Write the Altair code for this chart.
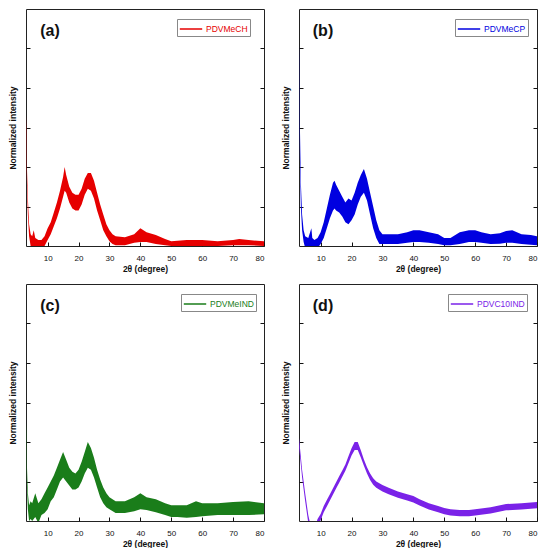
import altair as alt
import pandas as pd

FONT = "Liberation Sans"

# ---------------- data (y in tick-division units) ----------------
a_name = "PDVMeCH"
a_x = [3, 3.3, 3.6, 4, 4.5, 5, 5.5, 6, 7, 8,
       9, 10, 11, 12, 13, 14, 15, 15.5, 16, 17, 18, 19, 20, 21, 22, 23, 24, 25, 26, 27, 28, 29, 30, 31,
       32, 35, 38, 40, 42, 45, 48, 50, 55, 60, 65, 70, 72, 75, 80]
a_lo = [2.9, 1.6, 0.8, 0.25, 0.0, -0.1, 0.0, -0.1, -0.1, -0.05,
        0.0, 0.15, 0.3, 0.5, 0.7, 0.95, 1.25, 1.4, 1.35, 1.1, 0.95, 0.9, 0.9, 1.05, 1.3, 1.45, 1.4, 1.2, 0.9, 0.65, 0.4, 0.25, 0.12, 0.05,
        0.02, 0.02, 0.08, 0.1, 0.1, 0.05, 0.02, 0.0, 0.0, 0.0, 0.0, 0.02, 0.02, 0.02, 0.0]
a_hi = [3.3, 2.0, 1.2, 0.55, 0.3, 0.25, 0.4, 0.2, 0.15, 0.15,
        0.25, 0.45, 0.6, 0.85, 1.1, 1.4, 1.75, 2.0, 1.8, 1.5, 1.35, 1.3, 1.3, 1.45, 1.7, 1.85, 1.85, 1.65, 1.35, 1.05, 0.8, 0.55, 0.4, 0.3,
        0.25, 0.22, 0.3, 0.45, 0.35, 0.28, 0.18, 0.12, 0.15, 0.15, 0.12, 0.15, 0.18, 0.15, 0.12]

b_name = "PDVMeCP"
b_x = [3, 3.3, 3.6, 4, 4.5, 5, 6, 7, 7.3, 8,
       9, 10, 11, 12, 13, 14, 14.5, 15, 16, 17, 18, 19, 20, 21, 22, 23, 24, 25, 26, 27, 28, 29, 30,
       32, 35, 38, 40, 42, 45, 48, 50, 52, 55, 58, 60, 62, 65, 68, 70, 72, 75, 78, 80]
b_lo = [4.7, 2.2, 1.0, 0.4, 0.1, -0.05, -0.1, -0.1, 0.0, -0.1,
        -0.05, 0.05, 0.2, 0.45, 0.7, 0.9, 0.95, 0.9, 0.85, 0.75, 0.6, 0.55, 0.65, 0.8, 1.05, 1.25, 1.35, 1.15, 0.8, 0.45, 0.2, 0.05, 0.05,
        0.05, 0.05, 0.08, 0.1, 0.1, 0.08, 0.05, 0.02, 0.02, 0.05, 0.1, 0.1, 0.08, 0.05, 0.06, 0.08, 0.08, 0.05, 0.03, 0.02]
b_hi = [5.1, 3.0, 1.6, 0.8, 0.4, 0.25, 0.2, 0.45, 0.2, 0.15,
        0.2, 0.35, 0.6, 0.95, 1.3, 1.6, 1.65, 1.55, 1.4, 1.25, 1.1, 1.2, 1.15, 1.35, 1.6, 1.8, 1.95, 1.7, 1.35, 1.0, 0.65, 0.4, 0.3,
        0.3, 0.3, 0.35, 0.4, 0.4, 0.35, 0.3, 0.2, 0.2, 0.35, 0.4, 0.4, 0.35, 0.3, 0.32, 0.38, 0.4, 0.3, 0.28, 0.25]

c_name = "PDVMeIND"
c_x = [3, 3.3, 3.6, 4, 4.5, 5, 6, 7, 8, 9,
       10, 11, 12, 13, 14, 15, 16, 17, 18, 19, 20, 21, 22, 23, 24, 25, 26, 27, 28, 29, 30,
       32, 35, 38, 40, 42, 45, 48, 50, 52, 55, 58, 60, 65, 70, 75, 80]
c_lo = [2.2, 0.9, 0.3, 0.0, 0.05, 0.0, 0.1, -0.05, 0.15, 0.2,
        0.3, 0.5, 0.6, 0.8, 1.0, 1.1, 1.0, 0.9, 0.8, 0.8, 0.85, 1.0, 1.2, 1.35, 1.3, 1.1, 0.85, 0.6, 0.45, 0.35, 0.3,
        0.2, 0.2, 0.25, 0.3, 0.28, 0.22, 0.15, 0.1, 0.1, 0.08, 0.1, 0.12, 0.15, 0.15, 0.15, 0.17]
c_hi = [2.5, 1.4, 0.7, 0.4, 0.5, 0.45, 0.7, 0.45, 0.55, 0.7,
        0.85, 1.0, 1.15, 1.35, 1.55, 1.75, 1.55, 1.35, 1.25, 1.2, 1.3, 1.5, 1.75, 2.0, 1.85, 1.6, 1.3, 1.05, 0.85, 0.7, 0.6,
        0.5, 0.5, 0.6, 0.7, 0.6, 0.55, 0.45, 0.4, 0.4, 0.4, 0.5, 0.45, 0.45, 0.48, 0.5, 0.45]

d_name = "PDVC10IND"
d_x = [3, 3.5, 4, 5, 6, 7, 8, 9,
       10, 11, 12, 13, 14, 15, 16, 17, 18, 19, 20, 21, 22, 23, 24, 25, 26, 27, 28,
       30, 32, 35, 38, 40, 42, 45, 48, 50, 52, 55, 58, 60, 65, 70, 75, 80]
d_lo = [1.9, 1.5, 1.1, 0.5, -0.05, -0.4, -0.4, -0.15,
        0.02, 0.22, 0.37, 0.52, 0.67, 0.82, 0.97, 1.12, 1.27, 1.46, 1.66, 1.8, 1.8, 1.61, 1.4, 1.2, 1.04, 0.92, 0.84,
        0.75, 0.68, 0.59, 0.52, 0.47, 0.39, 0.29, 0.22, 0.17, 0.14, 0.12, 0.12, 0.14, 0.19, 0.27, 0.29, 0.32]
d_hi = [2.1, 1.7, 1.3, 0.7, 0.15, -0.2, -0.2, 0.05,
        0.18, 0.38, 0.53, 0.68, 0.83, 0.98, 1.13, 1.28, 1.43, 1.64, 1.84, 2.0, 2.0, 1.79, 1.56, 1.36, 1.2, 1.08, 1.0,
        0.91, 0.84, 0.75, 0.68, 0.63, 0.55, 0.45, 0.38, 0.33, 0.3, 0.28, 0.28, 0.3, 0.35, 0.43, 0.45, 0.48]

x_ticks = [10, 20, 30, 40, 50, 60, 70, 80]
y_ticks = [1, 2, 3, 4, 5]

W, H = 238, 237


def panel(name, color, label, xs, lo, hi, legend_x):
    df = pd.DataFrame({"x": xs, "lo": lo, "hi": hi})
    df["series"] = name
    xscale = alt.Scale(domain=[3, 80], nice=False, zero=False)
    yscale = alt.Scale(domain=[0, 6], nice=False, zero=False)
    xenc = alt.X("x:Q", scale=xscale,
                 axis=alt.Axis(values=x_ticks, title="2θ (degree)", offset=-4, tickSize=4,
                               domain=False, grid=False, labelPadding=8, titlePadding=2,
                               labelFontSize=8, labelFont=FONT, labelColor="#111",
                               titleFontSize=8.5, titleFont=FONT, titleFontWeight="bold",
                               titleColor="#111", tickColor="#111"))
    left_axis = alt.Axis(values=y_ticks, labels=False, title="Normalized intensity", offset=-4,
                         tickSize=4, domain=False, grid=False, titlePadding=8,
                         titleFontSize=8.5, titleFont=FONT, titleFontWeight="bold",
                         titleColor="#111", tickColor="#111")
    right_axis = alt.Axis(values=y_ticks, labels=False, title=None, orient="right", offset=-4,
                          tickSize=4, domain=False, grid=False, tickColor="#111")
    area = alt.Chart(df).mark_area(clip=True, interpolate="linear").encode(
        x=xenc,
        y=alt.Y("hi:Q", scale=yscale, axis=left_axis),
        y2="lo:Q",
        color=alt.Color("series:N", scale=alt.Scale(domain=[name], range=[color]),
                        legend=alt.Legend(orient="none", legendX=legend_x, legendY=10, title=None,
                                          symbolType="M-1.6,0H1.6", symbolStrokeColor=color,
                                          symbolFillColor="transparent",
                                          symbolStrokeWidth=1.5, symbolSize=196, symbolOffset=4,
                                          labelColor=color, labelFontSize=8.5, labelFont=FONT,
                                          labelOffset=7, strokeColor="#888", padding=2,
                                          fillColor="white")),
    )
    right = alt.Chart(df).mark_area(clip=True, opacity=0).encode(
        x=xenc,
        y=alt.Y("hi:Q", scale=yscale, axis=right_axis),
        y2="lo:Q",
    )
    txt = alt.Chart(pd.DataFrame({"t": [label]})).mark_text(
        font=FONT, fontSize=16, fontWeight="bold", align="center", baseline="alphabetic", color="#111"
    ).encode(x=alt.value(24), y=alt.value(27), text="t:N")
    return alt.layer(area, right, txt).resolve_axis(y="independent").properties(width=W, height=H)


pa = panel(a_name, "#e60000", "(a)", a_x, a_lo, a_hi, 151)
pb = panel(b_name, "#0000e0", "(b)", b_x, b_lo, b_hi, 156)
pc = panel(c_name, "#1a7d1a", "(c)", c_x, c_lo, c_hi, 155)
pd_ = panel(d_name, "#7a22e8", "(d)", d_x, d_lo, d_hi, 149)

top = alt.hconcat(pa, pb, spacing=16).resolve_scale(color="independent").resolve_legend(color="independent")
bottom = alt.hconcat(pc, pd_, spacing=16).resolve_scale(color="independent").resolve_legend(color="independent")
chart = alt.vconcat(top, bottom, spacing=10).resolve_scale(color="independent").resolve_legend(
    color="independent"
).properties(
    padding={"left": 0, "top": 0, "right": 0, "bottom": 0}
).configure(font=FONT).configure_view(stroke="#222", strokeWidth=1)

chart.save("out.html", embed_options={"renderer": "svg", "actions": False})
